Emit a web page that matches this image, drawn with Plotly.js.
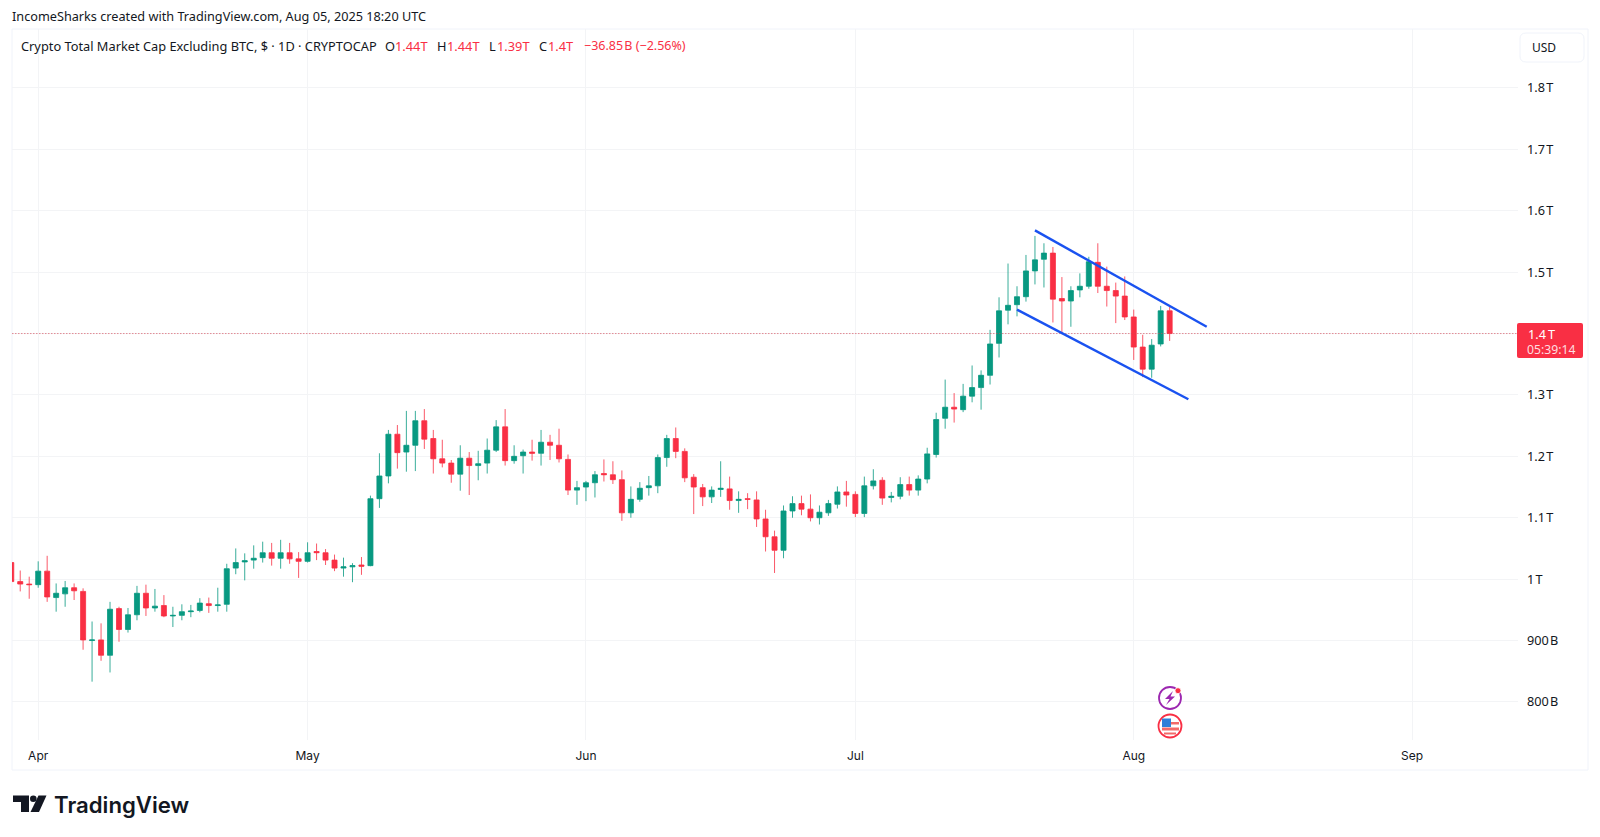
<!DOCTYPE html>
<html><head><meta charset="utf-8">
<script src="https://cdn.plot.ly/plotly-3.0.1.min.js"></script>
<style>html,body{margin:0;padding:0;background:#fff}#c{width:1600px;height:837px}</style>
</head><body><div id="c"></div>
<script>
const dates=["2025-03-29","2025-03-30","2025-03-31",
"2025-04-01","2025-04-02","2025-04-03","2025-04-04","2025-04-05","2025-04-06","2025-04-07","2025-04-08","2025-04-09","2025-04-10","2025-04-11","2025-04-12","2025-04-13","2025-04-14","2025-04-15","2025-04-16","2025-04-17","2025-04-18","2025-04-19","2025-04-20","2025-04-21","2025-04-22","2025-04-23","2025-04-24","2025-04-25","2025-04-26","2025-04-27","2025-04-28","2025-04-29","2025-04-30",
"2025-05-01","2025-05-02","2025-05-03","2025-05-04","2025-05-05","2025-05-06","2025-05-07","2025-05-08","2025-05-09","2025-05-10","2025-05-11","2025-05-12","2025-05-13","2025-05-14","2025-05-15","2025-05-16","2025-05-17","2025-05-18","2025-05-19","2025-05-20","2025-05-21","2025-05-22","2025-05-23","2025-05-24","2025-05-25","2025-05-26","2025-05-27","2025-05-28","2025-05-29","2025-05-30","2025-05-31",
"2025-06-01","2025-06-02","2025-06-03","2025-06-04","2025-06-05","2025-06-06","2025-06-07","2025-06-08","2025-06-09","2025-06-10","2025-06-11","2025-06-12","2025-06-13","2025-06-14","2025-06-15","2025-06-16","2025-06-17","2025-06-18","2025-06-19","2025-06-20","2025-06-21","2025-06-22","2025-06-23","2025-06-24","2025-06-25","2025-06-26","2025-06-27","2025-06-28","2025-06-29","2025-06-30",
"2025-07-01","2025-07-02","2025-07-03","2025-07-04","2025-07-05","2025-07-06","2025-07-07","2025-07-08","2025-07-09","2025-07-10","2025-07-11","2025-07-12","2025-07-13","2025-07-14","2025-07-15","2025-07-16","2025-07-17","2025-07-18","2025-07-19","2025-07-20","2025-07-21","2025-07-22","2025-07-23","2025-07-24","2025-07-25","2025-07-26","2025-07-27","2025-07-28","2025-07-29","2025-07-30","2025-07-31",
"2025-08-01","2025-08-02","2025-08-03","2025-08-04","2025-08-05"];
const open=[1027,996,992,991,1013,970,976,986,980,900,901,876,952,918,942,977,953,957,940,941,947,949,960,957,959,1018,1028,1031,1035,1043,1034,1043,1033,1029,1045,1043,1031,1018,1020,1023,1022,
1131,1168,1236,1207,1218,1258,1229,1196,1189,1171,1197,1185,1189,1210,1248,1193,1201,1207,1205,1223,1218,1195,1145,1150,1157,1172,1170,1162,1108,1130,1149,1152,1198,1229,1208,1166,1149,1134,1146,1147,
1128,1131,1129,1098,1069,1047,1111,1123,1114,1100,1108,1122,1142,1138,1107,1152,1161,1133,1135,1154,1145,1163,1203,1262,1280,1276,1298,1312,
1332,1384,1438,1447,1460,1502,1521,1531,1457,1453,1471,1477,1516,1477,1470,1461,1427,1378,1342,1383,1437];
const high=[1033,1014,1004,1029,1038,993,997,993,985,931,928,963,955,953,989,991,984,974,955,959,958,969,970,986,1025,1050,1042,1055,1061,1059,1064,1059,1044,1060,1058,1049,1040,1035,1026,1036,1136,
1205,1243,1251,1274,1274,1277,1243,1227,1194,1218,1207,1209,1229,1259,1277,1218,1211,1227,1243,1235,1245,1203,1160,1160,1176,1195,1192,1177,1151,1158,1168,1203,1235,1247,1213,1171,1155,1151,1192,1167,
1143,1140,1143,1113,1079,1120,1135,1136,1138,1120,1129,1151,1160,1143,1167,1179,1166,1142,1166,1167,1169,1214,1271,1325,1303,1318,1348,1340,
1406,1459,1514,1477,1528,1559,1547,1541,1492,1477,1498,1525,1547,1509,1483,1493,1439,1398,1391,1445,1445];
const low=[983,980,968,986,963,947,955,966,885,833,867,848,898,913,933,940,947,938,922,933,938,946,945,947,947,1008,998,1017,1027,1022,1017,1025,1002,1027,1031,1023,1013,1004,995,1007,1021,
1116,1156,1180,1175,1176,1212,1172,1182,1157,1144,1137,1161,1172,1207,1185,1188,1172,1193,1185,1194,1190,1137,1121,1127,1133,1159,1155,1095,1100,1126,1136,1140,1183,1197,1158,1106,1119,1124,1134,1113,
1108,1114,1085,1045,1010,1034,1100,1104,1094,1089,1103,1115,1118,1101,1101,1146,1121,1125,1130,1136,1136,1156,1198,1245,1255,1272,1288,1276,
1317,1361,1415,1428,1452,1480,1475,1418,1399,1411,1459,1473,1466,1444,1417,1422,1357,1329,1328,1379,1388];
const close=[996,992,991,1013,971,977,986,981,901,901,876,951,918,942,977,953,956,940,941,947,948,961,957,958,1017,1027,1030,1034,1043,1034,1043,1033,1029,1043,1043,1031,1018,1020,1022,1021,1131,
1168,1236,1206,1218,1258,1228,1196,1189,1171,1197,1185,1188,1210,1248,1193,1200,1207,1205,1223,1218,1196,1145,1149,1157,1170,1170,1162,1108,1130,1148,1152,1198,1229,1208,1165,1150,1134,1145,1148,1128,
1130,1130,1098,1069,1047,1111,1123,1114,1100,1109,1123,1142,1137,1107,1152,1160,1132,1135,1154,1145,1163,1204,1260,1280,1277,1298,1312,1332,
1383,1437,1446,1460,1502,1520,1531,1456,1453,1470,1477,1517,1477,1470,1461,1427,1378,1342,1381,1437,1400];

const monthTicks=["2025-04-01","2025-05-01","2025-06-01","2025-07-01","2025-08-01","2025-09-01"];
const monthLabels=["Apr","May","Jun","Jul","Aug","Sep"];
const priceTicks=[800,900,1000,1100,1200,1300,1400,1500,1600,1700,1800];
const priceLabels=["800\u200AB","900\u200AB","1\u200AT","1.1\u200AT","1.2\u200AT","1.3\u200AT","","1.5\u200AT","1.6\u200AT","1.7\u200AT","1.8\u200AT"];
const upperChannelX=["2025-07-21","2025-08-09 03:00"], upperChannelY=[1568,1411];
const lowerChannelX=["2025-07-19","2025-08-07 02:00"], lowerChannelY=[1439,1293];
const lastPrice=1400;

const L=12,R=1518,T=29,B=740;
const px=x=>(x-L)/(R-L), py=y=>(B-y)/(B-T);
const GREEN="#089981",RED="#F92F44",GRID="#f3f4f6",BORDER="#f0f3fa",TXT="#131722";
const P=(pts)=>"M"+pts.map(p=>px(p[0])+","+py(p[1])).join("L")+"Z";
const circ=(cx,cy,r)=>({type:"circle",xref:"paper",yref:"paper",x0:px(cx-r),x1:px(cx+r),y0:py(cy+r),y1:py(cy-r),layer:"above"});
const rect=(x0,y0,x1,y1)=>({type:"rect",xref:"paper",yref:"paper",x0:px(x0),x1:px(x1),y0:py(y1),y1:py(y0),layer:"above"});
const poly=(pts,color)=>({type:"path",xref:"paper",yref:"paper",path:P(pts),fillcolor:color,line:{width:0},layer:"above"});
const rounded=(x0,y0,x1,y1,r)=>"M"+px(x0+r)+","+py(y0)+"L"+px(x1-r)+","+py(y0)+"Q"+px(x1)+","+py(y0)+" "+px(x1)+","+py(y0+r)+"L"+px(x1)+","+py(y1-r)+"Q"+px(x1)+","+py(y1)+" "+px(x1-r)+","+py(y1)+"L"+px(x0+r)+","+py(y1)+"Q"+px(x0)+","+py(y1)+" "+px(x0)+","+py(y1-r)+"L"+px(x0)+","+py(y0+r)+"Q"+px(x0)+","+py(y0)+" "+px(x0+r)+","+py(y0)+"Z";

const shapes=[
 Object.assign(rect(12,29,1588,770),{fillcolor:"rgba(0,0,0,0)",line:{color:BORDER,width:1},layer:"below"}),
 {type:"line",xref:"paper",yref:"y",x0:0,x1:1,y0:lastPrice,y1:lastPrice,line:{color:"rgba(215,70,85,0.6)",width:1,dash:"1.5px,1.5px"},layer:"above"},
 {type:"line",xref:"x",yref:"y",x0:upperChannelX[0],x1:upperChannelX[1],y0:upperChannelY[0],y1:upperChannelY[1],line:{color:"#1a52f0",width:2.4}},
 {type:"line",xref:"x",yref:"y",x0:lowerChannelX[0],x1:lowerChannelX[1],y0:lowerChannelY[0],y1:lowerChannelY[1],line:{color:"#1a52f0",width:2.4}},
 {type:"path",xref:"paper",yref:"paper",path:rounded(1517,323,1583,358,2),fillcolor:RED,line:{width:0},layer:"above"},
 {type:"path",xref:"paper",yref:"paper",path:rounded(1520,33,1584,62,6),fillcolor:"#fff",line:{color:BORDER,width:1},layer:"above"},
 Object.assign(circ(1170,698,11),{fillcolor:"#fff",line:{color:"#9c27b0",width:1.8}}),
 poly([[1173,691],[1165,699],[1169.5,699],[1166,705],[1175,696.5],[1170.5,696.5]],"#9c27b0"),
 Object.assign(circ(1178,690.7,3),{fillcolor:RED,line:{color:"#fff",width:0.8}}),
 Object.assign(circ(1170,726,11.5),{fillcolor:"#fff",line:{color:RED,width:1.8}}),
 Object.assign(rect(1163,722,1179,724.5),{fillcolor:"#f26a6a",line:{width:0}}),
 Object.assign(rect(1162,727.5,1179,730.5),{fillcolor:"#f26a6a",line:{width:0}}),
 Object.assign(rect(1164,732.5,1176,734.5),{fillcolor:"#f26a6a",line:{width:0}}),
 Object.assign(rect(1162,718.5,1171,727),{fillcolor:"#2f7fd8",line:{width:0}}),
 poly([[13,795.5],[29,795.5],[29,812],[21,812],[21,802],[13,802]],"#131722"),
 Object.assign(circ(33.3,798.8,3.3),{fillcolor:"#131722",line:{width:0}}),
 poly([[38.5,795.5],[46.5,795.5],[39,812],[30.5,812]],"#131722")
];

const note=(x,y,text,color,size,extra)=>Object.assign({xref:"paper",yref:"paper",x:px(x),y:py(y),xanchor:"left",yanchor:"middle",showarrow:false,text:text,borderpad:0,font:{family:"Noto Sans",size:size,color:color}},extra||{});
const annotations=[
 note(11,16.5,"IncomeSharks created with TradingView.com, Aug 05, 2025 18:20 UTC",TXT,12.7),
 note(20,46,"Crypto Total Market Cap Excluding BTC, $ · 1D · CRYPTOCAP",TXT,12.8),
 note(384,46,"O",TXT,12.8), note(394,46,"1.44T",RED,12.8),
 note(436,46,"H",TXT,12.8), note(446,46,"1.44T",RED,12.8),
 note(488,46,"L",TXT,12.8), note(496,46,"1.39T",RED,12.8),
 note(538,46,"C",TXT,12.8), note(547,46,"1.4T",RED,12.8),
 note(583,46,"−36.85\u200AB (−2.56%)",RED,12.5),
 note(1531,47.5,"USD",TXT,12),
 note(1527,333.5,"1.4\u2009T","#ffffff",12.7),
 note(1526,349.5,"05:39:14","rgba(255,255,255,0.85)",12.2),
 note(53,804,"TradingView","#131722",22.2,{font:{family:"Inter",size:22.2,color:"#131722",weight:600}})
];

Plotly.newPlot("c",[{
 type:"candlestick",x:dates,open:open,high:high,low:low,close:close,
 increasing:{line:{color:"rgba(8,153,129,0.8)",width:1},fillcolor:GREEN},
 decreasing:{line:{color:"rgba(249,47,68,0.8)",width:1},fillcolor:RED},
 whiskerwidth:0,hoverinfo:"skip",showlegend:false
}],{
 width:1600,height:837,paper_bgcolor:"#fff",plot_bgcolor:"#fff",
 margin:{l:L,r:1600-R,t:T,b:837-B,pad:0},showlegend:false,boxgap:0.2,
 xaxis:{type:"date",range:["2025-03-29 02:00","2025-09-12 19:00"],rangeslider:{visible:false},
  tickmode:"array",tickvals:monthTicks,ticktext:monthLabels,tickangle:0,
  showgrid:true,gridcolor:GRID,gridwidth:1,zeroline:false,showline:false,ticks:"",ticklabelstandoff:7,
  tickfont:{family:"Inter",size:12,color:TXT}},
 yaxis:{side:"right",range:[738,1896],tickmode:"array",tickvals:priceTicks,ticktext:priceLabels,
  showgrid:true,gridcolor:GRID,gridwidth:1,zeroline:false,showline:false,ticks:"",ticklabelstandoff:8,
  tickfont:{family:"Noto Sans",size:12.7,color:TXT}},
 shapes:shapes,annotations:annotations
},{displayModeBar:false,staticPlot:true});
</script></body></html>
